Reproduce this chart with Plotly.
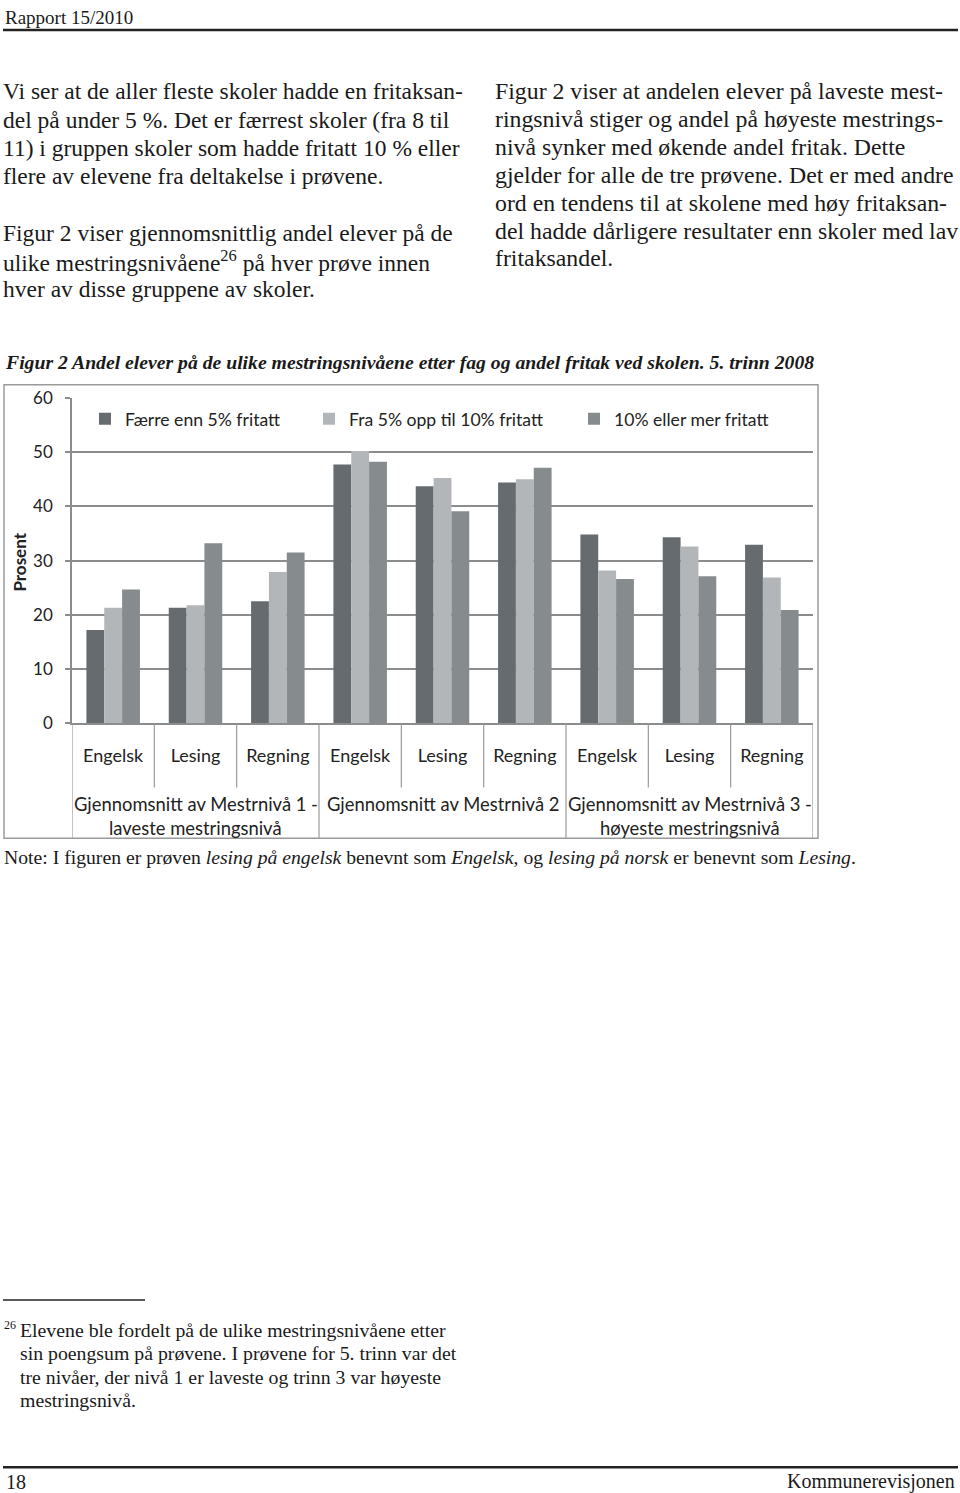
import plotly.graph_objects as go

W, H = 960, 1493

def px(x):
    return x / W

def py(y):
    # target screen y (px from top) -> paper fraction (compensates the page offset seen in rendering)
    yf = (y - 9.9) / 0.9868
    return 1 - yf / H

# ---------------- data ----------------
subjects = ["Engelsk", "Lesing", "Regning"] * 3
groups = [
    ["Gjennomsnitt av Mestrnivå 1 -", "laveste mestringsnivå"],
    ["Gjennomsnitt av Mestrnivå 2"],
    ["Gjennomsnitt av Mestrnivå 3 -", "høyeste mestringsnivå"],
]
series_names = ["Færre enn 5% fritatt", "Fra 5% opp til 10% fritatt", "10% eller mer fritatt"]
faerre_enn_5 = [17.2, 21.3, 22.5, 47.7, 43.7, 44.4, 34.8, 34.3, 32.9]
fra_5_til_10 = [21.3, 21.8, 27.9, 50.2, 45.2, 45.0, 28.2, 32.6, 26.9]
ti_eller_mer = [24.7, 33.2, 31.5, 48.2, 39.1, 47.1, 26.6, 27.1, 20.9]
y_ticks = [0, 10, 20, 30, 40, 50, 60]
colors = ["#656b6f", "#b3b6b8", "#868b8e"]

series = [faerre_enn_5, fra_5_til_10, ti_eller_mer]
xpos = list(range(len(subjects)))

CHART_FONT = "Lato"
SERIF = "Liberation Serif"
TXT = "#1a1a1a"

fig = go.Figure()
legend_ids = ["legend", "legend2", "legend3"]
for name, vals, col, lg in zip(series_names, series, colors, legend_ids):
    fig.add_trace(go.Bar(x=xpos, y=vals, name=name, marker_color=col,
                         marker_line_width=0, legend=lg))

grid = "#8c8c8c"
fig.update_layout(
    width=W, height=H,
    margin=dict(l=0, r=0, t=0, b=0),
    paper_bgcolor="white", plot_bgcolor="white",
    barmode="group", bargap=0.35, bargroupgap=0,
    xaxis=dict(domain=[px(72), px(813)], range=[-0.5, 8.5],
               tickmode="array", tickvals=xpos, ticktext=subjects,
               ticks="", showline=True, linecolor=grid, linewidth=1.5,
               showgrid=False, zeroline=False, ticklabelstandoff=15,
               tickfont=dict(family=CHART_FONT, size=18, color="#222")),
    yaxis=dict(domain=[py(723), py(397)], range=[0, 60],
               tickmode="array", tickvals=y_ticks,
               ticks="outside", ticklen=5, tickcolor=grid, tickwidth=1.5,
               showline=True, linecolor=grid, linewidth=1.5,
               showgrid=True, gridcolor=grid, gridwidth=1.5, zeroline=False,
               ticklabelstandoff=9,
               tickfont=dict(family=CHART_FONT, size=17, color="#222")),
    showlegend=True,
)
legend_x = [85, 309, 574]
for lg, lx in zip(legend_ids, legend_x):
    fig.update_layout({lg: dict(x=px(lx), y=py(418), xanchor="left", yanchor="middle",
                                orientation="h", bgcolor="rgba(0,0,0,0)",
                                font=dict(family=CHART_FONT, size=17.6, color="#222"))})

shapes = []
# chart frame
shapes.append(dict(type="rect", xref="paper", yref="paper",
                   x0=px(4), x1=px(818), y0=py(838), y1=py(384),
                   line=dict(color="#9a9a9a", width=1.5)))
# dividers below the axis
for k in range(10):
    xb = k - 0.5
    bottom = 838 if k % 3 == 0 else 787
    shapes.append(dict(type="line", xref="x", yref="paper", x0=xb, x1=xb,
                       y0=py(723), y1=py(bottom), line=dict(color="#9a9a9a", width=1.2)))
# page rules
shapes.append(dict(type="line", xref="paper", yref="paper", x0=px(3), x1=px(958),
                   y0=py(29), y1=py(29), line=dict(color="#222", width=2.5)))
shapes.append(dict(type="line", xref="paper", yref="paper", x0=px(3), x1=px(145),
                   y0=py(1300), y1=py(1300), line=dict(color="#222", width=1.5)))
shapes.append(dict(type="line", xref="paper", yref="paper", x0=px(3), x1=px(958),
                   y0=py(1467.5), y1=py(1467.5), line=dict(color="#222", width=2.5)))

ann = []

def text(x, y, s, size, family=SERIF, anchor="left", color=TXT, yanchor="middle", yval=None):
    ann.append(dict(x=px(x), y=py(y) if yval is None else yval, xref="paper", yref="paper",
                    text=s, showarrow=False, xanchor=anchor, yanchor=yanchor,
                    font=dict(family=family, size=size, color=color)))

# group labels
group_centers = [1, 4, 7]
for gc, lines in zip(group_centers, groups):
    for i, line in enumerate(lines):
        ann.append(dict(x=gc, y=py(804 + 24 * i), xref="x", yref="paper", text=line,
                        showarrow=False, xanchor="center", yanchor="middle",
                        font=dict(family=CHART_FONT, size=18.4, color="#222")))
# axis title
ann.append(dict(x=px(20), y=py(562), xref="paper", yref="paper", text="<b>Prosent</b>",
                showarrow=False, textangle=-90, xanchor="center", yanchor="middle",
                font=dict(family=CHART_FONT, size=17, color="#222")))

# header (as high as the page allows)
text(3, 0, "Rapport 15/2010", 19, yanchor="top", yval=1.0 + 6 / H)

left_lines = [
    (97, "Vi ser at de aller fleste skoler hadde en fritaksan-"),
    (125.3, "del på under 5 %. Det er færrest skoler (fra 8 til"),
    (153.6, "11) i gruppen skoler som hadde fritatt 10 % eller"),
    (182, "flere av elevene fra deltakelse i prøvene."),
    (238.5, "Figur 2 viser gjennomsnittlig andel elever på de"),
    (266.8, "ulike mestringsnivåene<sup>26</sup> på hver prøve innen"),
    (295, "hver av disse gruppene av skoler."),
]
for b, s in left_lines:
    text(1, b - 6.8, s, 23.5)

right_lines = [
    (97, "Figur 2 viser at andelen elever på laveste mest-"),
    (125, "ringsnivå stiger og andel på høyeste mestrings-"),
    (153, "nivå synker med økende andel fritak. Dette"),
    (180.8, "gjelder for alle de tre prøvene. Det er med andre"),
    (208.6, "ord en tendens til at skolene med høy fritaksan-"),
    (236.4, "del hadde dårligere resultater enn skoler med lav"),
    (264, "fritaksandel."),
]
for b, s in right_lines:
    text(493, b - 6.8, s, 23.8)

text(3, 361, "<b><i>Figur 2 Andel elever på de ulike mestringsnivåene etter fag og andel fritak ved skolen. 5. trinn 2008</i></b>", 19.7)
text(2, 857, "Note: I figuren er prøven <i>lesing på engelsk</i> benevnt som <i>Engelsk</i>, og <i>lesing på norsk</i> er benevnt som <i>Lesing</i>.", 19.7)

# footnote
text(2, 1325, "26", 12)
foot = [
    (1335, "Elevene ble fordelt på de ulike mestringsnivåene etter"),
    (1358, "sin poengsum på prøvene. I prøvene for 5. trinn var det"),
    (1382, "tre nivåer, der nivå 1 er laveste og trinn 3 var høyeste"),
    (1405, "mestringsnivå."),
]
for b, s in foot:
    text(18, b - 5, s, 19.8)

# footer
text(4, 1482, "18", 20)
text(957, 1482, "Kommunerevisjonen", 20, anchor="right")

fig.update_layout(shapes=shapes, annotations=ann)
fig.write_html("out.html", config={"displayModeBar": False})
